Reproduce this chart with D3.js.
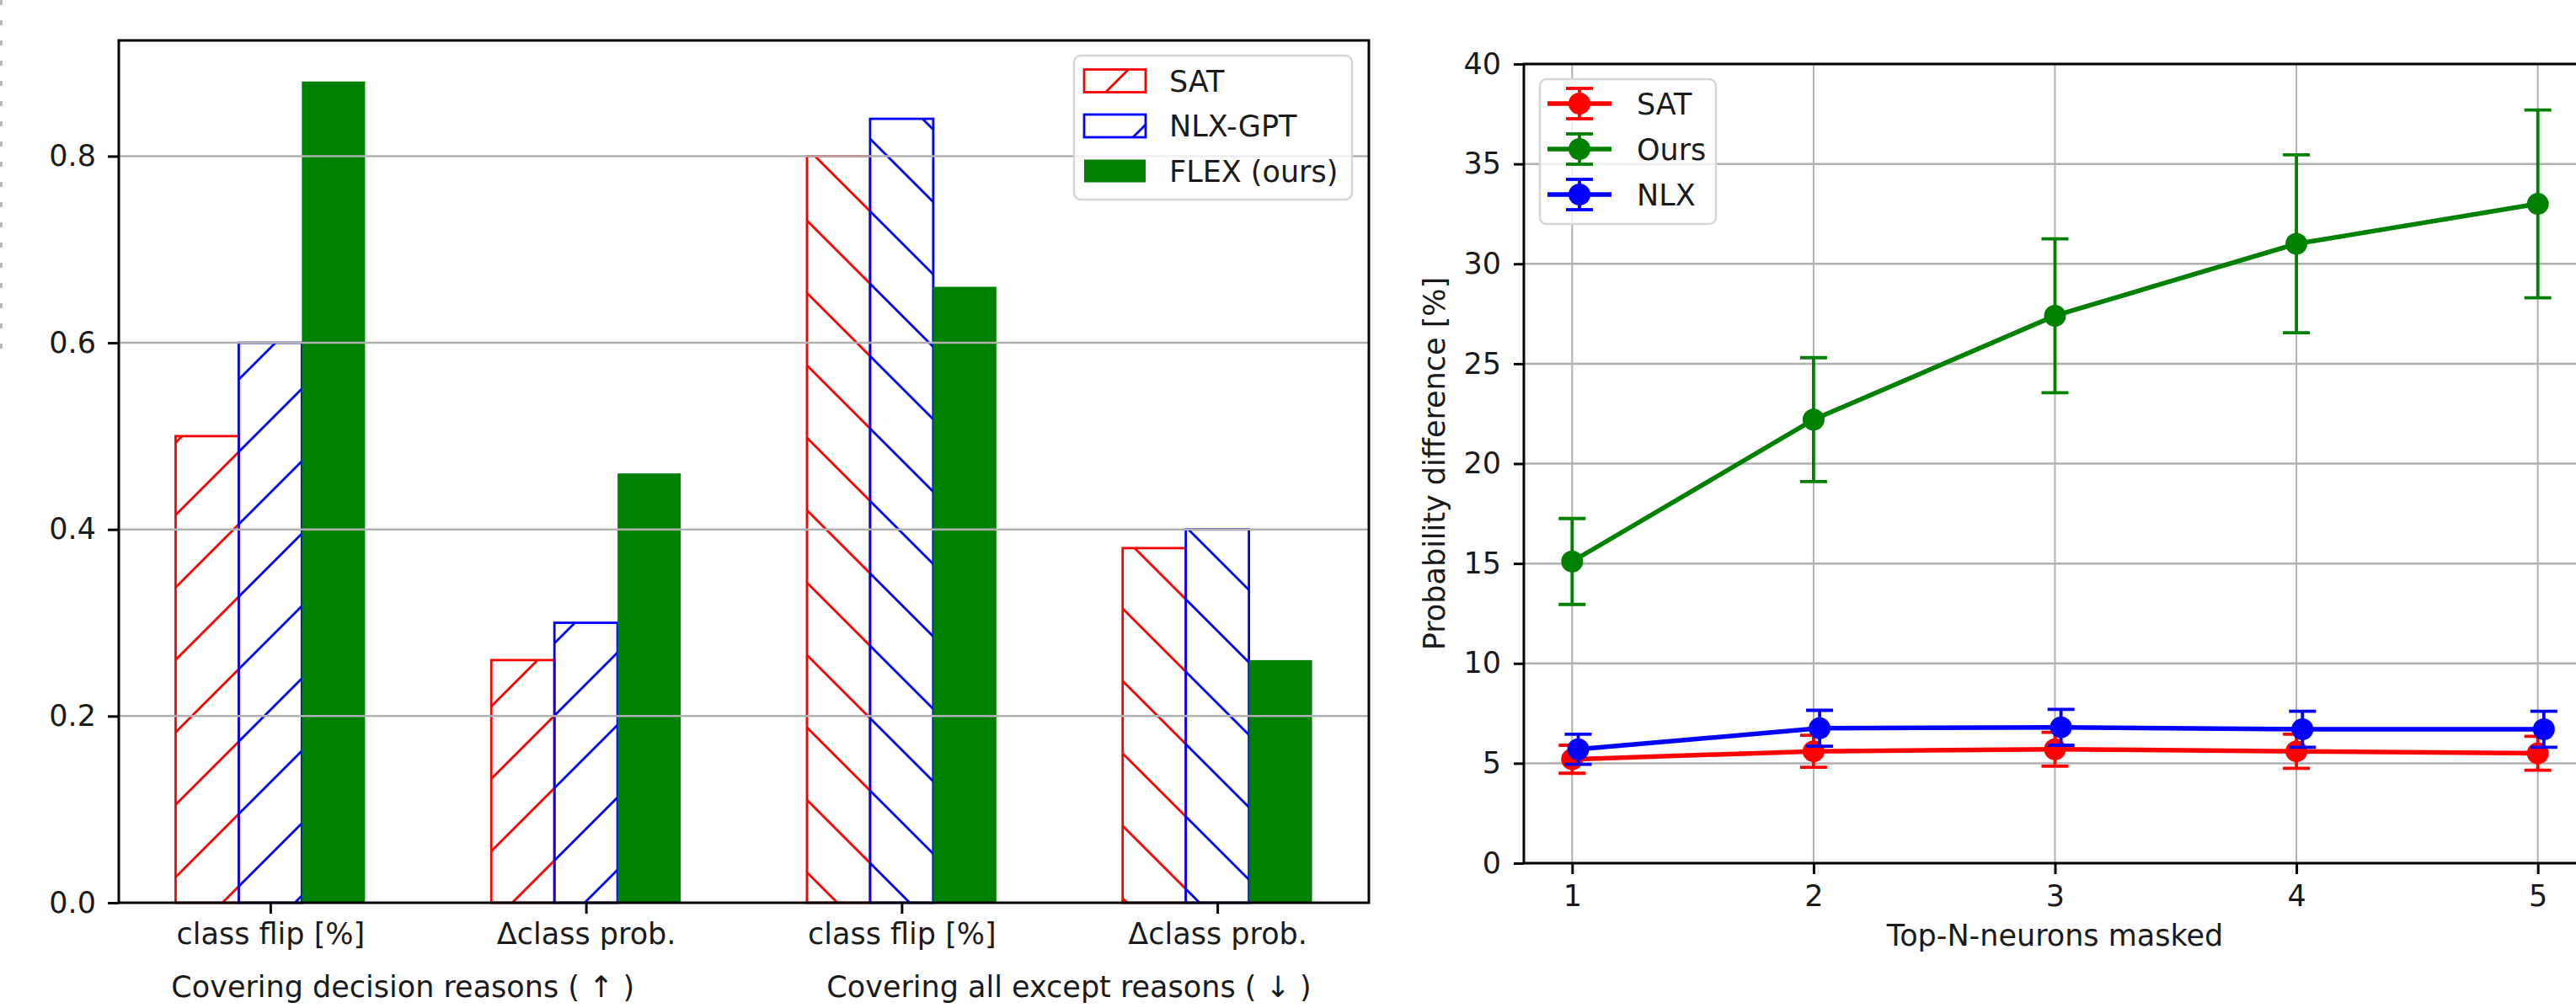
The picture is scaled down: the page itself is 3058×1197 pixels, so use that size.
<!DOCTYPE html>
<html>
  <head>
    <meta http-equiv="Content-Type" content="text/html; charset=UTF-8">
    <style type="text/css">
      body { margin: 0; background: #fff; }
      svg { display: block; }
      text { font-family: 'DejaVu Sans', sans-serif; fill: #1a1a1a; }
    </style>
  </head>
  <body>
    <div id="canvas"></div>
    <script type="text/javascript" src="https://d3js.org/d3.v7.min.js"></script>
    <script type="text/javascript">
      // left panel: bar chart
      var groups = ["class flip [%]", "\u0394class prob.", "class flip [%]", "\u0394class prob."];
      var groupHatch = ["fwd", "fwd", "back", "back"];
      var satBars = [0.50, 0.26, 0.80, 0.38];
      var nlxBars = [0.60, 0.30, 0.84, 0.40];
      var flexBars = [0.88, 0.46, 0.66, 0.26];
      var sectionLabels = ["Covering decision reasons ( \u2191 )", "Covering all except reasons ( \u2193 )"];
      var sectionPos = [0.42, 2.53];
      var leftTicks = [0, 0.2, 0.4, 0.6, 0.8];
      var barNames = ["SAT", "NLX-GPT", "FLEX (ours)"];

      // right panel: error bars
      var topN = [1, 2, 3, 4, 5];
      var satMean = [5.2, 5.6, 5.7, 5.6, 5.5];
      var satErr = [0.7, 0.8, 0.85, 0.85, 0.85];
      var oursMean = [15.1, 22.2, 27.4, 31.0, 33.0];
      var oursErr = [2.15, 3.1, 3.85, 4.45, 4.7];
      var nlxMean = [5.7, 6.75, 6.8, 6.7, 6.7];
      var nlxErr = [0.75, 0.9, 0.9, 0.9, 0.9];
      var rightTicks = [0, 5, 10, 15, 20, 25, 30, 35, 40];
      var lineNames = ["SAT", "Ours", "NLX"];

      var W = 3058, H = 1197, FS = 35;
      var RED = "#ff0000", BLUE = "#0000ff", GREEN = "#008000", GRID = "#b0b0b0";

      var svg = d3.select("#canvas").append("svg")
        .attr("width", W).attr("height", H);
      var defs = svg.append("defs");

      // hatch patterns, tiled in page space like matplotlib does
      var P = 86;
      function hatch(id, color, dir) {
        var p = defs.append("pattern").attr("id", id)
          .attr("patternUnits", "userSpaceOnUse")
          .attr("width", P).attr("height", P);
        var segs, c;
        if (dir == "fwd") {
          c = 46;
          segs = [[-2, c + 2, c + 2, -2], [c - 2, P + 2, P + 2, c - 2]];
        } else {
          c = 8;
          segs = [[c - 2, -2, P + 2, P - c + 2], [-2, P - c - 2, c + 2, P + 2]];
        }
        segs.forEach(function (s) {
          p.append("line").attr("x1", s[0]).attr("y1", s[1]).attr("x2", s[2]).attr("y2", s[3])
            .attr("stroke", color).attr("stroke-width", 2.8);
        });
      }
      hatch("red-fwd", RED, "fwd");
      hatch("red-back", RED, "back");
      hatch("blue-fwd", BLUE, "fwd");
      hatch("blue-back", BLUE, "back");

      // dashed page edge on the far left
      svg.append("line").attr("x1", 1.5).attr("x2", 1.5).attr("y1", 0).attr("y2", 415)
        .attr("stroke", "#b8b8b8").attr("stroke-width", 3).attr("stroke-dasharray", "6,18");

      // ---------- left chart ----------
      var L = { x0: 141, x1: 1625, y0: 48, y1: 1072 };
      var xL = d3.scaleLinear().domain([-0.48, 3.48]).range([L.x0, L.x1]);
      var yL = d3.scaleLinear().domain([0, 0.924]).range([L.y1, L.y0]);
      var bw = xL(0.2) - xL(0);

      var series = [
        { vals: satBars, off: -0.2, color: RED, key: "red" },
        { vals: nlxBars, off: 0, color: BLUE, key: "blue" },
        { vals: flexBars, off: 0.2, color: GREEN, key: null }
      ];
      var bars = svg.append("g");
      series.forEach(function (s) {
        bars.selectAll(null).data(s.vals).enter().append("rect")
          .attr("x", function (d, i) { return xL(i + s.off) - bw / 2; })
          .attr("y", function (d) { return yL(d); })
          .attr("width", bw)
          .attr("height", function (d) { return yL(0) - yL(d); })
          .attr("fill", function (d, i) { return s.key ? "url(#" + s.key + "-" + groupHatch[i] + ")" : s.color; })
          .attr("stroke", s.key ? s.color : "none")
          .attr("stroke-width", 2.8);
      });

      // grid above the bars
      svg.append("g").selectAll("line").data(leftTicks.slice(1)).enter().append("line")
        .attr("x1", L.x0).attr("x2", L.x1)
        .attr("y1", function (d) { return yL(d); }).attr("y2", function (d) { return yL(d); })
        .attr("stroke", GRID).attr("stroke-width", 2.5);

      var axL = svg.append("g").attr("transform", "translate(" + L.x0 + ",0)")
        .call(d3.axisLeft(yL).tickValues(leftTicks).tickFormat(d3.format(".1f")).tickSize(13).tickPadding(14));
      var axB = svg.append("g").attr("transform", "translate(0," + L.y1 + ")")
        .call(d3.axisBottom(xL).tickValues([0, 1, 2, 3]).tickFormat(function (d) { return groups[d]; })
          .tickSize(13).tickPadding(11));

      svg.append("rect").attr("x", L.x0).attr("y", L.y0)
        .attr("width", L.x1 - L.x0).attr("height", L.y1 - L.y0)
        .attr("fill", "none").attr("stroke", "#000").attr("stroke-width", 3);

      svg.append("g").selectAll("text").data(sectionLabels).enter().append("text")
        .attr("x", function (d, i) { return xL(sectionPos[i]); })
        .attr("y", 1184)
        .attr("text-anchor", "middle").attr("font-size", FS)
        .text(function (d) { return d; });

      // legend left
      var lg = svg.append("g");
      lg.append("rect").attr("x", 1275).attr("y", 66).attr("width", 330).attr("height", 171)
        .attr("rx", 8).attr("fill", "#fff").attr("fill-opacity", 0.8)
        .attr("stroke", "#d6d6d6").attr("stroke-width", 2.5);
      series.forEach(function (s, i) {
        var cy = 96 + i * 53.5;
        lg.append("rect").attr("x", 1287).attr("y", cy - 13.5).attr("width", 73).attr("height", 27)
          .attr("fill", s.key ? "url(#" + s.key + "-fwd)" : s.color)
          .attr("stroke", s.key ? s.color : "none").attr("stroke-width", 2.8);
        lg.append("text").attr("x", 1388).attr("y", cy).attr("dy", "0.36em")
          .attr("font-size", FS).text(barNames[i]);
      });

      // ---------- right chart ----------
      var R = { x0: 1809, x1: 3070, y0: 76, y1: 1025 };
      var xR = d3.scaleLinear().domain([0.8, 5.2]).range([R.x0, R.x1]);
      var yR = d3.scaleLinear().domain([0, 40]).range([R.y1, R.y0]);

      var gridR = svg.append("g");
      gridR.selectAll(null).data(topN).enter().append("line")
        .attr("x1", function (d) { return xR(d); }).attr("x2", function (d) { return xR(d); })
        .attr("y1", R.y0).attr("y2", R.y1).attr("stroke", GRID).attr("stroke-width", 2);
      gridR.selectAll(null).data(rightTicks).enter().append("line")
        .attr("x1", R.x0).attr("x2", R.x1)
        .attr("y1", function (d) { return yR(d); }).attr("y2", function (d) { return yR(d); })
        .attr("stroke", GRID).attr("stroke-width", 2.5);

      var lines = [
        { mean: satMean, err: satErr, color: RED, shift: 0 },
        { mean: oursMean, err: oursErr, color: GREEN, shift: 0 },
        { mean: nlxMean, err: nlxErr, color: BLUE, shift: 0.025 }
      ];
      var cap = 16;
      lines.forEach(function (s) {
        var g = svg.append("g");
        var pts = topN.map(function (n, i) { return { x: n + s.shift, m: s.mean[i], e: s.err[i] }; });
        g.append("path").datum(pts)
          .attr("d", d3.line().x(function (d) { return xR(d.x); }).y(function (d) { return yR(d.m); }))
          .attr("fill", "none").attr("stroke", s.color).attr("stroke-width", 5.5);
        var eb = g.selectAll(null).data(pts).enter().append("g").attr("stroke", s.color).attr("stroke-width", 3.8);
        eb.append("line")
          .attr("x1", function (d) { return xR(d.x); }).attr("x2", function (d) { return xR(d.x); })
          .attr("y1", function (d) { return yR(d.m - d.e); }).attr("y2", function (d) { return yR(d.m + d.e); });
        [-1, 1].forEach(function (sg) {
          eb.append("line")
            .attr("x1", function (d) { return xR(d.x) - cap; }).attr("x2", function (d) { return xR(d.x) + cap; })
            .attr("y1", function (d) { return yR(d.m + sg * d.e); }).attr("y2", function (d) { return yR(d.m + sg * d.e); });
        });
        g.selectAll(null).data(pts).enter().append("circle")
          .attr("cx", function (d) { return xR(d.x); }).attr("cy", function (d) { return yR(d.m); })
          .attr("r", 13).attr("fill", s.color);
      });

      var axRL = svg.append("g").attr("transform", "translate(" + R.x0 + ",0)")
        .call(d3.axisLeft(yR).tickValues(rightTicks).tickSize(12).tickPadding(15));
      var axRB = svg.append("g").attr("transform", "translate(0," + R.y1 + ")")
        .call(d3.axisBottom(xR).tickValues(topN).tickFormat(d3.format("d")).tickSize(13).tickPadding(13));

      svg.append("rect").attr("x", R.x0).attr("y", R.y0)
        .attr("width", R.x1 - R.x0).attr("height", R.y1 - R.y0)
        .attr("fill", "none").attr("stroke", "#000").attr("stroke-width", 3);

      svg.append("text").attr("transform", "translate(1703," + ((R.y0 + R.y1) / 2) + ") rotate(-90)")
        .attr("text-anchor", "middle").attr("dy", "0.33em").attr("font-size", FS)
        .text("Probability difference [%]");
      svg.append("text").attr("x", xR(3)).attr("y", 1123)
        .attr("text-anchor", "middle").attr("font-size", FS)
        .text("Top-N-neurons masked");

      // legend right
      var rg = svg.append("g");
      rg.append("rect").attr("x", 1828).attr("y", 94).attr("width", 209).attr("height", 172)
        .attr("rx", 8).attr("fill", "#fff").attr("fill-opacity", 0.8)
        .attr("stroke", "#d6d6d6").attr("stroke-width", 2.5);
      lines.forEach(function (s, i) {
        var cy = 123 + i * 54;
        var h = rg.append("g").attr("stroke", s.color).attr("stroke-width", 3.8);
        h.append("line").attr("x1", 1837).attr("x2", 1913).attr("y1", cy).attr("y2", cy).attr("stroke-width", 5.5);
        h.append("line").attr("x1", 1875).attr("x2", 1875).attr("y1", cy - 18).attr("y2", cy + 18);
        h.append("line").attr("x1", 1875 - cap).attr("x2", 1875 + cap).attr("y1", cy - 18).attr("y2", cy - 18);
        h.append("line").attr("x1", 1875 - cap).attr("x2", 1875 + cap).attr("y1", cy + 18).attr("y2", cy + 18);
        rg.append("circle").attr("cx", 1875).attr("cy", cy).attr("r", 13).attr("fill", s.color);
        rg.append("text").attr("x", 1943).attr("y", cy).attr("dy", "0.36em")
          .attr("font-size", FS).text(lineNames[i]);
      });

      // axis styling
      [axL, axB, axRL, axRB].forEach(function (a) {
        a.attr("font-family", null).attr("font-size", null);
        a.select(".domain").remove();
        a.selectAll(".tick line").attr("stroke", "#000").attr("stroke-width", 3);
        a.selectAll(".tick text").attr("font-size", FS).attr("fill", "#1a1a1a");
      });
    </script>
  </body>
</html>
